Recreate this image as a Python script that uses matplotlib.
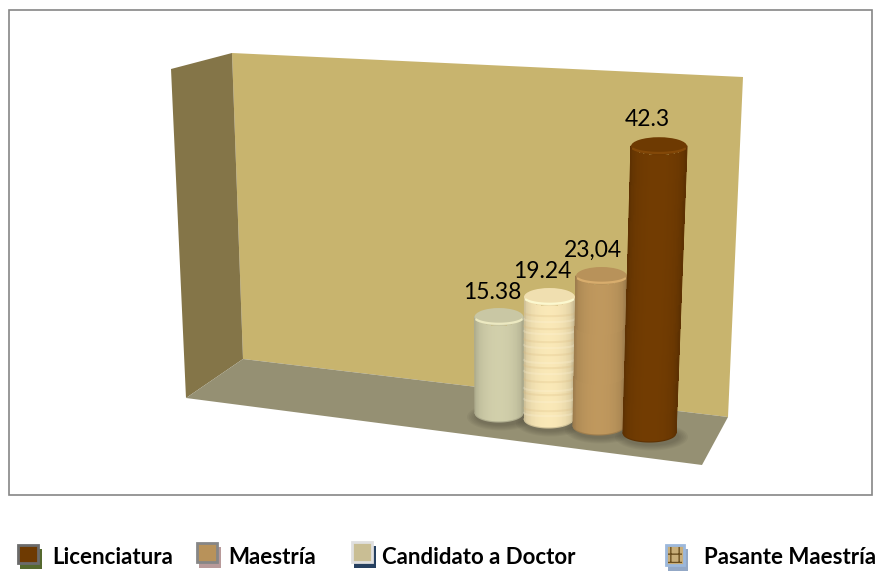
import numpy as np
import matplotlib
matplotlib.use("Agg")
import matplotlib.pyplot as plt
from matplotlib.colors import to_rgb
from matplotlib.patches import Polygon, Rectangle, Ellipse

# --- data ---
categories = ["Candidato a Doctor", "Pasante Maestría", "Maestría", "Licenciatura"]
values = [15.38, 19.24, 23.04, 42.3]
value_labels = ["15.38", "19.24", "23,04", "42.3"]
bar_colors = ["#C9C7A4", "#F0DFB0", "#B8925A", "#6E3A02"]
legend_order = ["Licenciatura", "Maestría", "Candidato a Doctor", "Pasante Maestría"]

# --- layout (perspective of the 3D scene, in figure pixels) ---
base_cx = [499, 548.5, 598.5, 649.5]
base_cy = [413, 419, 426, 433]
half_w_base = [24, 24.5, 25.5, 26.5]
half_w_top = [24.5, 25.5, 25.5, 28]
top_cx = [499, 549.5, 601.5, 659]
px_per_unit = [6.24, 6.34, 6.51, 6.78]
label_dx = [-7, -7, -8.5, -12]
label_dy = [-9, -10, -10, -11]
ry = 9

sw_box = [(17, 544, 22, 20), (196, 542, 22, 21), (351, 541, 22, 22), (665, 544, 20, 22)]
sw_fill = ["#6E3A02", "#B8925A", "#C9BE94", "#C8AD78"]
sw_back = ["#55692F", "#B89A9A", "#264060", "#93A8C6"]
sw_edge = ["#6B6B6B", "#868686", "#E0E0E0", "#9CB8DC"]
text_x = [52, 228, 382, 704]
text_y = 558

W, H = 885, 571
fig = plt.figure(figsize=(W / 100, H / 100), dpi=100, facecolor="white")
ax = fig.add_axes([0, 0, 1, 1])
ax.set_xlim(0, W)
ax.set_ylim(H, 0)
ax.axis("off")

# chart frame
ax.add_patch(Rectangle((9, 10), 863, 485, fc="white", ec="#868686", lw=1.2, zorder=0))

# walls and floor
ax.add_patch(Polygon([(232, 53), (743, 77), (728, 417), (243, 359)], fc="#C8B46E", ec="none", zorder=1))
ax.add_patch(Polygon([(171, 69), (232, 53), (243, 359), (186, 398)], fc="#847548", ec="none", zorder=1))
ax.add_patch(Polygon([(186, 398), (243, 359), (728, 417), (702, 465)], fc="#959073", ec="none", zorder=1))


def shade(color, t):
    """t in [-1, 1] across the cylinder: darker at the edges."""
    c = np.array(to_rgb(color))
    f = 0.76 + 0.28 * (1 - t ** 2) ** 0.35
    return np.clip(c * f, 0, 1)


for i, (val, col) in enumerate(zip(values, bar_colors)):
    bx, by = base_cx[i], base_cy[i]
    height = val * px_per_unit[i]
    tx, ty = top_cx[i], by - height
    wb, wt = half_w_base[i], half_w_top[i]
    z = 3 + i * 0.1

    # soft contact shadow on the floor
    for k in range(6):
        ax.add_patch(Ellipse((bx + 2, by + 4), 2 * wb + 20 - 3.5 * k, 2 * ry + 9 - 2 * k,
                             fc="#4A4638", ec="none", alpha=0.08, zorder=2 + i * 0.01))

    # body
    ts = np.linspace(-1, 1, 61)
    arc = ry * np.sqrt(1 - ts ** 2)
    bx_edges = np.vstack([tx + ts * wt, bx + ts * wb])
    by_edges = np.vstack([ty + arc, by + arc])
    tm = (ts[:-1] + ts[1:]) / 2
    rgb = np.array([shade(col, m) for m in tm])[None, :, :]
    ax.pcolormesh(bx_edges, by_edges, rgb, shading="flat", zorder=z, rasterized=True)
    edge = shade(col, 0.97)
    ax.plot([tx - wt, bx - wb], [ty, by], color=edge, lw=0.8, zorder=z + 0.01)
    ax.plot([tx + wt, bx + wb], [ty, by], color=edge, lw=0.8, zorder=z + 0.01)
    ax.plot(bx + ts * wb, by + arc, color=edge, lw=0.8, zorder=z + 0.01)

    # paper-like banding on the textured column
    if categories[i] == "Pasante Maestría":
        offsets = [10, 15, 24, 31, 35, 44, 52, 58, 63, 71, 78, 84, 92, 97, 104, 110]
        for n, y_off in enumerate(offsets):
            s = y_off / height
            lx = bx + ts * (wb + (wt - wb) * s) + (tx - bx) * s
            ly = by - y_off + arc * 0.35 + 4
            ax.plot(lx, ly, color="#D8B67A" if n % 2 else "#FFF8E2", lw=1.5, alpha=0.22, zorder=z + 0.02)

    # top cap: same hue as the body with a light front rim
    cc = np.array(to_rgb(col))
    ax.add_patch(Ellipse((tx, ty), 2 * wt, 2 * ry, fc=tuple(np.clip(cc * 1.0, 0, 1)), ec="none", zorder=z + 0.03))
    rim = np.linspace(-0.92, 0.92, 40)
    ax.plot(tx + rim * wt, ty + 0.75 * ry * np.sqrt(1 - rim ** 2), color=tuple(np.clip(cc * 1.18 + 0.03, 0, 1)),
            lw=1.6, alpha=0.8, zorder=z + 0.04)

    # value label
    ax.text(tx + label_dx[i], ty - ry + label_dy[i], value_labels[i], ha="center", va="baseline",
            fontsize=16.5, family="Lato", color="black", zorder=6)

# legend
for j, name in enumerate(legend_order):
    x0, y0, w, h = sw_box[j]
    ax.add_patch(Rectangle((x0 + 3, y0 + 5), w, h, fc=sw_back[j], ec="none", zorder=5))
    ax.add_patch(Rectangle((x0 + 1, y0 + 1), w - 2, h - 2, fc=sw_fill[j], ec=sw_edge[j], lw=2, zorder=5.1))
    if name == "Pasante Maestría":
        ax.add_patch(Rectangle((x0 + 3, y0 + 3), w - 6, h - 6, fc="none", ec="#6B4F20", lw=0, hatch="++", zorder=5.2))
    ax.text(text_x[j], text_y, name, ha="left", va="center", fontsize=16,
            fontweight="bold", family="Lato", color="black", zorder=6)

fig.savefig("out.png", dpi=100, facecolor="white")
